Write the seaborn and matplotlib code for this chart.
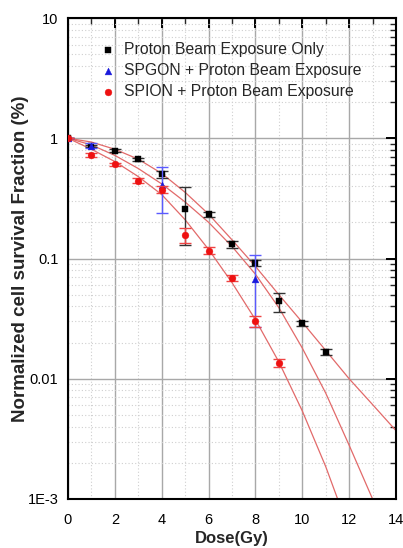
import matplotlib
matplotlib.use("Agg")
import matplotlib.pyplot as plt
import matplotlib.ticker as mticker
from matplotlib import font_manager
import seaborn as sns
import pandas as pd
import numpy as np

# ---- data ----
dose_black = [0, 1, 2, 3, 4, 5, 6, 7, 8, 9, 10, 11]
surv_black = [1.0, 0.86, 0.79, 0.67, 0.50, 0.26, 0.233, 0.131, 0.092, 0.044, 0.029, 0.0168]
err_black = [0, 0.02, 0.02, 0.02, 0.035, 0.13, 0.012, 0.008, 0.005, 0.008, 0.0015, 0.001]

dose_blue = [0, 1, 4, 8]
surv_blue = [1.0, 0.87, 0.41, 0.067]
err_blue = [0, 0.04, 0.17, 0.04]

dose_red = [0, 1, 2, 3, 4, 5, 6, 7, 8, 9]
surv_red = [1.0, 0.73, 0.605, 0.445, 0.374, 0.157, 0.116, 0.069, 0.030, 0.0135]
err_red = [0, 0.03, 0.02, 0.02, 0.025, 0.022, 0.008, 0.004, 0.003, 0.001]

# fitted curves at integer doses
fit_dose_black = list(range(0, 15))
fit_black = [1.0, 0.93, 0.81, 0.67, 0.51, 0.355, 0.234, 0.143, 0.086, 0.050,
             0.0295, 0.0172, 0.0100, 0.0061, 0.0037]
fit_dose_blue = list(range(0, 15))
fit_blue = [1.0, 0.88, 0.72, 0.56, 0.417, 0.295, 0.20, 0.126, 0.074, 0.039,
            0.018, 0.0076, 0.0028, 0.0010, 0.00034]
fit_dose_red = list(range(0, 13))
fit_red = [1.0, 0.81, 0.64, 0.48, 0.34, 0.21, 0.119, 0.063, 0.031, 0.0138,
           0.0054, 0.00186, 0.00055]

labels = ["Proton Beam Exposure Only", "SPGON + Proton Beam Exposure",
          "SPION + Proton Beam Exposure"]
x_ticks = [0, 2, 4, 6, 8, 10, 12, 14]
y_ticks = [1e-3, 0.01, 0.1, 1, 10]
y_ticklabels = ["1E-3", "0.01", "0.1", "1", "10"]

sns.set_style("white")
plt.rcParams["font.family"] = ["Liberation Sans", "DejaVu Sans"]

installed = {f.name for f in font_manager.fontManager.ttflist}
tick_family = "Liberation Sans Narrow" if "Liberation Sans Narrow" in installed else "Liberation Sans"

fig = plt.figure(figsize=(4.03, 5.48), dpi=100)
ax = fig.add_axes([68 / 403, 1 - 499 / 548, (396 - 68) / 403, (499 - 18) / 548])

curve_color = "#e26a6a"
for xs, ys in [(fit_dose_black, fit_black), (fit_dose_blue, fit_blue), (fit_dose_red, fit_red)]:
    sns.lineplot(x=xs, y=ys, ax=ax, color=curve_color, linewidth=0.9, zorder=2, legend=False)

series = [
    (dose_black, surv_black, err_black, "black", "#333333", "s", labels[0]),
    (dose_blue, surv_blue, err_blue, "#1a1adb", "#5a5aff", "^", labels[1]),
    (dose_red, surv_red, err_red, "#ee1111", "#ee4444", "o", labels[2]),
]
for i, (xs, ys, es, c, ec, m, lab) in enumerate(series):
    ax.errorbar(xs, ys, yerr=es, fmt="none", ecolor=ec, elinewidth=1.0,
                capsize=4, capthick=1.0, zorder=3 + i)
    sns.scatterplot(x=xs, y=ys, ax=ax, color=c, marker=m, s=24, edgecolor=c,
                    linewidth=0.3, zorder=4 + i, label=lab)

ax.set_yscale("log")
ax.set_xlim(0, 14)
ax.set_ylim(1e-3, 10)
ax.set_xticks(x_ticks)
ax.set_xticklabels([str(v) for v in x_ticks], family=tick_family)
ax.xaxis.set_minor_locator(mticker.MultipleLocator(1))
ax.set_yticks(y_ticks)
ax.set_yticklabels(y_ticklabels, family=tick_family)
ax.yaxis.set_minor_locator(mticker.LogLocator(base=10, subs=np.arange(2, 10)))
ax.yaxis.set_minor_formatter(mticker.NullFormatter())

ax.grid(True, which="major", color="#a8a8a8", linewidth=1.0, linestyle="-", zorder=0)
ax.grid(True, which="minor", color="#cfcfcf", linewidth=0.8, linestyle=(0, (1, 2)), zorder=0)
ax.set_axisbelow(True)

ax.tick_params(which="major", direction="in", length=7, width=1.4, top=True, right=True,
               labelsize=10.5, colors="black")
ax.tick_params(which="minor", direction="in", length=4, width=1.0, top=True, right=True)
ax.tick_params(axis="x", which="major", pad=10)
ax.tick_params(axis="y", which="major", pad=7)
for sp in ax.spines.values():
    sp.set_linewidth(1.5)
    sp.set_color("black")

ax.set_xlabel("Dose(Gy)", fontsize=12, fontweight="bold")
ax.xaxis.set_label_coords(0.5, -0.066)
ax.set_ylabel("Normalized cell survival Fraction (%)", fontsize=13.5, fontweight="bold")
ax.yaxis.set_label_coords(-0.12, 0.5)

leg = ax.legend(loc="upper left", bbox_to_anchor=(0.06, 0.97), frameon=False, fontsize=11.3,
                handletextpad=0.3, handlelength=1.4, labelspacing=0.38, borderaxespad=0.2)

fig.savefig("out.png", dpi=100, facecolor="white")
